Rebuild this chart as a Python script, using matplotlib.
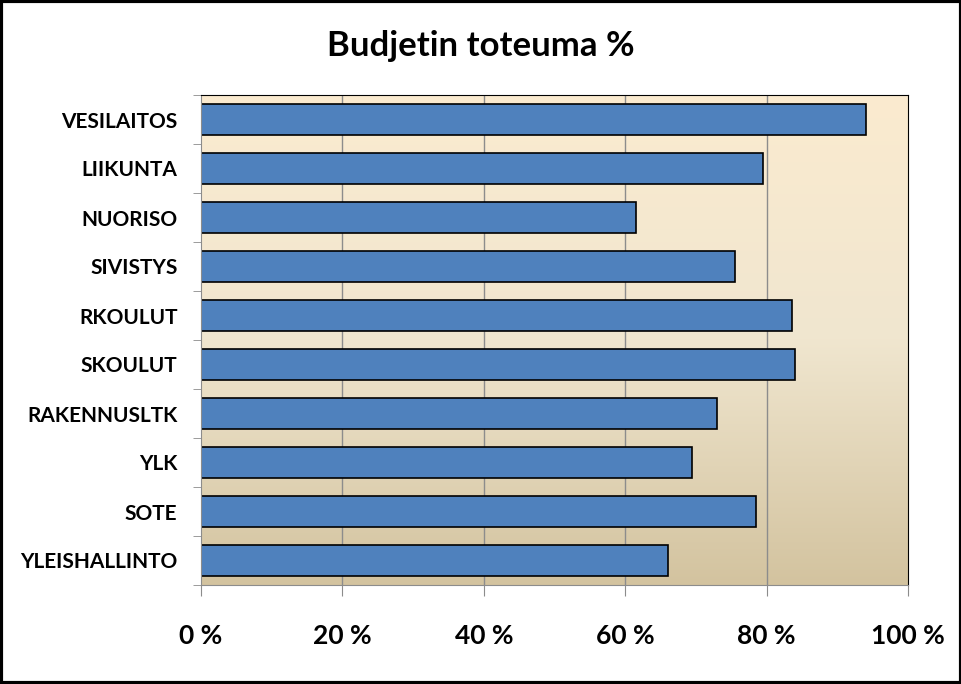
import numpy as np
import matplotlib.pyplot as plt
from matplotlib.colors import LinearSegmentedColormap
from matplotlib.patches import Rectangle

# categories from top to bottom, values in percent
categories = ["VESILAITOS", "LIIKUNTA", "NUORISO", "SIVISTYS", "RKOULUT",
              "SKOULUT", "RAKENNUSLTK", "YLK", "SOTE", "YLEISHALLINTO"]
values = [94.1, 79.5, 61.5, 75.5, 83.6, 84.0, 73.0, 69.4, 78.5, 66.1]
xticks = [0, 20, 40, 60, 80, 100]
xlabels = ["0 %", "20 %", "40 %", "60 %", "80 %", "100 %"]

plt.rcParams['font.family'] = ['Lato', 'DejaVu Sans']
plt.rcParams['font.weight'] = 'bold'

fig = plt.figure(figsize=(9.62, 6.84), dpi=100)
ax = fig.add_axes([201/962, 1-585/684, 707/962, 490/684])

n = len(categories)
ypos = np.arange(n)[::-1]

# background gradient (cream at top, tan at bottom)
bg = LinearSegmentedColormap.from_list("bg", ["#fbebd0", "#f0e6cf", "#d3c39f"])
grad = np.linspace(0, 1, 256).reshape(-1, 1)
ax.imshow(grad, cmap=bg, aspect='auto', extent=[0, 100, -0.5, n - 0.5],
          origin='upper', zorder=0)

for x in xticks[1:-1]:
    ax.axvline(x, color="#8c8c8c", lw=1, zorder=1)

ax.barh(ypos, values, height=0.65, color="#4f81bd", edgecolor="black",
        linewidth=1.2, zorder=2)

ax.set_xlim(0, 100)
ax.set_ylim(-0.5, n - 0.5)

ax.set_xticks(xticks)
ax.set_xticklabels(xlabels, fontsize=19, fontweight='bold')
ax.tick_params(axis='x', length=8, color="#8c8c8c", direction='out', pad=20)

ax.set_yticks(ypos)
ax.set_yticklabels(categories, fontsize=15, fontweight='bold')
ax.tick_params(axis='y', which='major', length=0, pad=17)
ax.set_yticks(np.arange(n + 1) - 0.5, minor=True)
ax.tick_params(axis='y', which='minor', length=6, color="#8c8c8c", direction='out')

ax.spines['left'].set_color("#8c8c8c")
ax.spines['bottom'].set_color("#8c8c8c")
ax.spines['top'].set_color("black")
ax.spines['right'].set_color("black")

fig.text(0.5, 1 - 46/684, "Budjetin toteuma %", ha='center', va='center',
         fontsize=25, fontweight='bold')

# thick outer frame
fig.patches.append(Rectangle((0.0015, 0.002), 0.997, 0.996, transform=fig.transFigure,
                             fill=False, edgecolor="black", linewidth=3))

fig.savefig("out.png", dpi=100)
